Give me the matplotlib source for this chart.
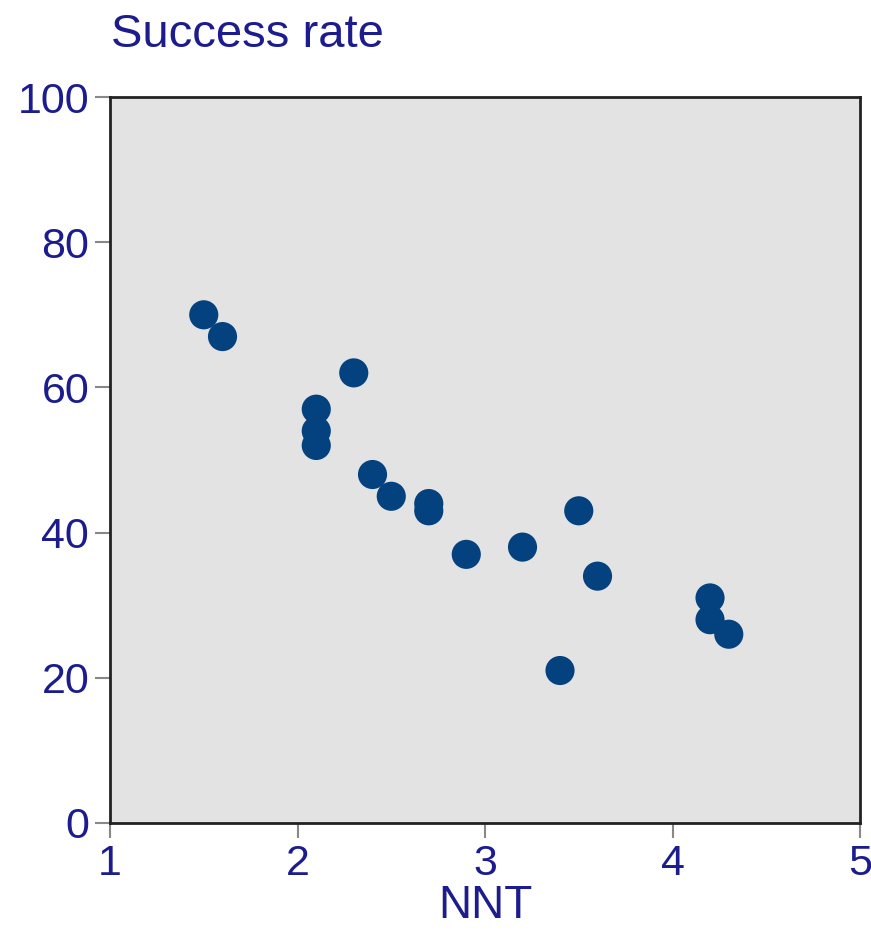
import matplotlib
matplotlib.use("Agg")
import matplotlib.pyplot as plt

nnt = [1.5, 1.6, 2.3, 2.1, 2.1, 2.1, 2.4, 2.5, 2.7, 2.7, 2.9, 3.2, 3.5, 3.6, 3.4, 4.2, 4.2, 4.3]
success = [70, 67, 62, 57, 54, 52, 48, 45, 44, 43, 37, 38, 43, 34, 21, 31, 28, 26]
xticks = [1, 2, 3, 4, 5]
yticks = [0, 20, 40, 60, 80, 100]

text_color = "#1c1c8e"
plt.rcParams['font.family'] = ['Liberation Sans', 'DejaVu Sans']

fig = plt.figure(figsize=(8.71, 9.40), dpi=100)
ax = fig.add_axes([0.1263, 0.1245, 0.8611, 0.7723])
ax.set_facecolor("#e3e3e3")
ax.scatter(nnt, success, s=440, color="#03427f", edgecolors="none", zorder=3, clip_on=False)
ax.set_xlim(1, 5)
ax.set_ylim(0, 100)
ax.set_xticks(xticks)
ax.set_yticks(yticks)
ax.tick_params(axis="both", labelsize=31, labelcolor=text_color, color="#888888",
               length=11, width=1.5, pad=4)
for sp in ax.spines.values():
    sp.set_color("#222222")
    sp.set_linewidth(2)
ax.set_xlabel("NNT", fontsize=33, color=text_color, labelpad=0)
fig.text(0.127, 0.95, "Success rate", fontsize=34, color=text_color, ha="left", va="baseline")
fig.savefig("out.png", dpi=100)
